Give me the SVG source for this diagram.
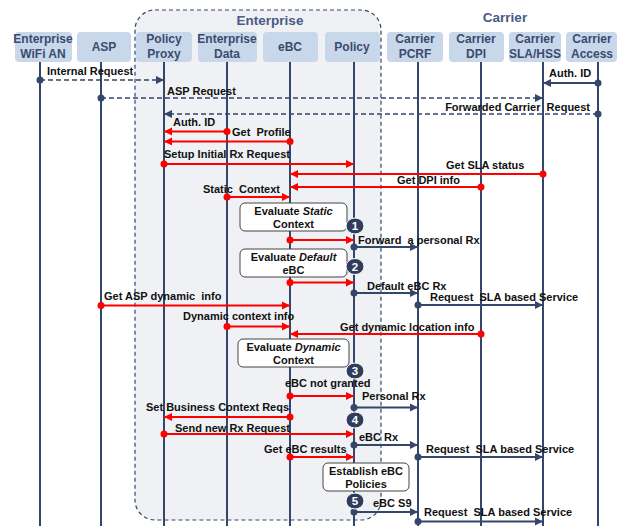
<svg xmlns="http://www.w3.org/2000/svg" width="630" height="526" viewBox="0 0 630 526">
<defs>
<style>
text{font-family:"Liberation Sans",Arial,sans-serif;font-weight:bold;}
.hd{font-size:12px;fill:#3b4b6e;text-anchor:middle;}
.grp{font-size:13.5px;fill:#4a5a85;text-anchor:middle;}
.hbox{fill:#c8d7ea;stroke:none;}
.life{stroke:#34466a;stroke-width:2;fill:none;}
.lbl{font-size:11px;fill:#111;white-space:pre;}
.red{stroke:#ff0000;stroke-width:2;fill:none;marker-end:url(#ar);}
.dk{stroke:#34466a;stroke-width:2;fill:none;marker-end:url(#ad);}
.dd{stroke:#34466a;stroke-width:1.5;stroke-dasharray:5,3;fill:none;marker-end:url(#ad);}
.rdot{fill:#ff0000;}
.ddot{fill:#34466a;}
.ev{fill:#fff;stroke:#444;stroke-width:1;}
.evt{font-size:11px;fill:#111;text-anchor:middle;}
.num{fill:#2f3d5c;stroke:#fff;stroke-width:1;}
.numt{font-size:11.5px;fill:#fff;text-anchor:middle;}
</style>
<marker id="ar" viewBox="0 0 10 10" refX="10" refY="5" markerWidth="8" markerHeight="9" markerUnits="userSpaceOnUse" orient="auto"><path d="M0,0 L10,5 L0,10 z" fill="#ff0000"/></marker>
<marker id="ad" viewBox="0 0 10 10" refX="10" refY="5" markerWidth="8" markerHeight="9" markerUnits="userSpaceOnUse" orient="auto"><path d="M0,0 L10,5 L0,10 z" fill="#34466a"/></marker>
</defs>
<rect x="0" y="0" width="630" height="526" fill="#fff"/>
<g id="enterprise-group">
<rect x="135" y="10" width="246" height="510" rx="20" fill="#eff1f4" stroke="#34466a" stroke-width="1.2" stroke-dasharray="4,3"/>
<text class="grp" x="270" y="25">Enterprise</text>
</g>
<g id="carrier-group"><text class="grp" x="505" y="22">Carrier</text></g>

<g id="n-wifi"><rect class="hbox" x="15" y="32" width="57" height="30" rx="4"/><text class="hd" x="43" y="43">Enterprise</text><text class="hd" x="43" y="57.5">WiFi AN</text><line class="life" x1="40" y1="62" x2="40" y2="526"/></g>
<g id="n-asp"><rect class="hbox" x="77" y="32" width="54" height="30" rx="4"/><text class="hd" x="104" y="51">ASP</text><line class="life" x1="101" y1="62" x2="101" y2="526"/></g>
<g id="n-proxy"><rect class="hbox" x="136" y="32" width="56" height="30" rx="4"/><text class="hd" x="164" y="43">Policy</text><text class="hd" x="164" y="57.5">Proxy</text><line class="life" x1="164" y1="62" x2="164" y2="526"/></g>
<g id="n-edata"><rect class="hbox" x="198" y="32" width="59" height="30" rx="4"/><text class="hd" x="227" y="43">Enterprise</text><text class="hd" x="227" y="57.5">Data</text><line class="life" x1="227" y1="62" x2="227" y2="526"/></g>
<g id="n-ebc"><rect class="hbox" x="263" y="32" width="55" height="30" rx="4"/><text class="hd" x="290" y="51">eBC</text><line class="life" x1="290" y1="62" x2="290" y2="526"/></g>
<g id="n-policy"><rect class="hbox" x="325" y="32" width="55" height="30" rx="4"/><text class="hd" x="352" y="51">Policy</text><line class="life" x1="354" y1="62" x2="354" y2="526"/></g>
<g id="n-pcrf"><rect class="hbox" x="387" y="32" width="56" height="30" rx="4"/><text class="hd" x="415" y="43">Carrier</text><text class="hd" x="415" y="57.5">PCRF</text><line class="life" x1="418" y1="62" x2="418" y2="526"/></g>
<g id="n-dpi"><rect class="hbox" x="449" y="32" width="55" height="30" rx="4"/><text class="hd" x="476" y="43">Carrier</text><text class="hd" x="476" y="57.5">DPI</text><line class="life" x1="481" y1="62" x2="481" y2="526"/></g>
<g id="n-sla"><rect class="hbox" x="509" y="32" width="52" height="30" rx="4"/><text class="hd" x="535" y="43">Carrier</text><text class="hd" x="535" y="57.5">SLA/HSS</text><line class="life" x1="543" y1="62" x2="543" y2="526"/></g>
<g id="n-access"><rect class="hbox" x="566" y="32" width="51" height="30" rx="4"/><text class="hd" x="592" y="43">Carrier</text><text class="hd" x="592" y="57.5">Access</text><line class="life" x1="598" y1="62" x2="598" y2="526"/></g>

<g id="connectors">
<line class="dd" x1="40" y1="80" x2="164" y2="80"/><circle class="ddot" cx="40" cy="80" r="3.5"/>
<line class="dd" x1="101" y1="98" x2="543" y2="98"/><circle class="ddot" cx="101" cy="98" r="3.5"/>
<line class="dk" x1="598" y1="83" x2="543" y2="83"/><circle class="ddot" cx="598" cy="83" r="3.5"/>
<line class="dd" x1="598" y1="114" x2="164" y2="114"/><circle class="ddot" cx="598" cy="114" r="3.5"/>

<line class="red" x1="227" y1="131.5" x2="164" y2="131.5"/><circle class="rdot" cx="227" cy="131.5" r="3.5"/>
<line class="red" x1="290" y1="141.5" x2="164" y2="141.5"/><circle class="rdot" cx="290" cy="141.5" r="3.5"/>
<line class="red" x1="164" y1="164" x2="354" y2="164"/><circle class="rdot" cx="164" cy="164" r="3.5"/>
<line class="red" x1="543" y1="174" x2="290" y2="174"/><circle class="rdot" cx="543" cy="174" r="3.5"/>
<line class="red" x1="481" y1="187" x2="290" y2="187"/><circle class="rdot" cx="481" cy="187" r="3.5"/>
<line class="red" x1="227" y1="197" x2="290" y2="197"/><circle class="rdot" cx="227" cy="197" r="3.5"/>
<line class="red" x1="290" y1="240" x2="354" y2="240"/><circle class="rdot" cx="290" cy="240" r="3.5"/>
<line class="dk" x1="354" y1="247" x2="418" y2="247"/><circle class="ddot" cx="354" cy="247" r="3.5"/>
<line class="red" x1="290" y1="282.5" x2="354" y2="282.5"/><circle class="rdot" cx="290" cy="282.5" r="3.5"/>
<line class="dk" x1="354" y1="293" x2="418" y2="293"/><circle class="ddot" cx="354" cy="293" r="3.5"/>
<line class="dk" x1="418" y1="305" x2="543" y2="305"/><circle class="ddot" cx="418" cy="305" r="3.5"/>
<line class="red" x1="101" y1="305.5" x2="290" y2="305.5"/><circle class="rdot" cx="101" cy="305.5" r="3.5"/>
<line class="red" x1="227" y1="326.5" x2="290" y2="326.5"/><circle class="rdot" cx="227" cy="326.5" r="3.5"/>
<line class="red" x1="481" y1="334" x2="290" y2="334"/><circle class="rdot" cx="481" cy="334" r="3.5"/>
<line class="red" x1="290" y1="396" x2="354" y2="396"/><circle class="rdot" cx="290" cy="396" r="3.5"/>
<line class="dk" x1="354" y1="407.5" x2="418" y2="407.5"/><circle class="ddot" cx="354" cy="407.5" r="3.5"/>
<line class="red" x1="290" y1="417" x2="164" y2="417"/><circle class="rdot" cx="290" cy="417" r="3.5"/>
<line class="red" x1="164" y1="434" x2="354" y2="434"/><circle class="rdot" cx="164" cy="434" r="3.5"/>
<line class="dk" x1="354" y1="445" x2="418" y2="445"/><circle class="ddot" cx="354" cy="445" r="3.5"/>
<line class="dk" x1="418" y1="457" x2="543" y2="457"/><circle class="ddot" cx="418" cy="457" r="3.5"/>
<line class="red" x1="290" y1="457" x2="354" y2="457"/><circle class="rdot" cx="290" cy="457" r="3.5"/>
<line class="dk" x1="354" y1="512" x2="418" y2="512"/><circle class="ddot" cx="354" cy="512" r="3.5"/>
<line class="dk" x1="418" y1="521.5" x2="543" y2="521.5"/><circle class="ddot" cx="418" cy="521.5" r="3.5"/>
</g>

<g id="labels">
<text class="lbl" x="47" y="75">Internal Request</text>
<text class="lbl" x="167" y="95">ASP Request</text>
<text class="lbl" x="549" y="77">Auth. ID</text>
<text class="lbl" x="590" y="111" text-anchor="end">Forwarded Carrier  Request</text>
<text class="lbl" x="173" y="126">Auth. ID</text>
<text class="lbl" x="232" y="136">Get  Profile</text>
<text class="lbl" x="164" y="158">Setup Initial Rx Request</text>
<text class="lbl" x="446" y="169">Get SLA status</text>
<text class="lbl" x="397" y="184">Get DPI info</text>
<text class="lbl" x="203" y="193">Static  Context</text>
<text class="lbl" x="358" y="244">Forward  a personal Rx</text>
<text class="lbl" x="367" y="290">Default eBC Rx</text>
<text class="lbl" x="430" y="301">Request  SLA based Service</text>
<text class="lbl" x="104" y="300">Get ASP dynamic  info</text>
<text class="lbl" x="183" y="320">Dynamic context info</text>
<text class="lbl" x="340" y="331">Get dynamic location info</text>
<text class="lbl" x="285" y="387">eBC not granted</text>
<text class="lbl" x="362" y="400">Personal Rx</text>
<text class="lbl" x="146" y="411">Set Business Context Reqs</text>
<text class="lbl" x="175" y="432">Send new Rx Request</text>
<text class="lbl" x="359" y="441">eBC Rx</text>
<text class="lbl" x="426" y="453">Request  SLA based Service</text>
<text class="lbl" x="264" y="453">Get eBC results</text>
<text class="lbl" x="373" y="507">eBC S9</text>
<text class="lbl" x="424" y="516">Request  SLA based Service</text>
</g>

<g id="eval-static"><rect class="ev" x="240" y="203" width="107" height="28" rx="5"/><text class="evt" x="293.5" y="215">Evaluate <tspan font-style="italic">Static</tspan></text><text class="evt" x="293.5" y="228">Context</text></g>
<g id="eval-default"><rect class="ev" x="240" y="249" width="107" height="28" rx="5"/><text class="evt" x="293.5" y="261">Evaluate <tspan font-style="italic">Default</tspan></text><text class="evt" x="293.5" y="274">eBC</text></g>
<g id="eval-dynamic"><rect class="ev" x="238" y="339" width="111" height="28" rx="5"/><text class="evt" x="293.5" y="351">Evaluate <tspan font-style="italic">Dynamic</tspan></text><text class="evt" x="293.5" y="364">Context</text></g>
<g id="establish"><rect class="ev" x="323" y="463" width="86" height="28" rx="5"/><text class="evt" x="366" y="475">Establish eBC</text><text class="evt" x="366" y="488">Policies</text></g>

<g id="step1"><ellipse class="num" cx="355" cy="226" rx="9" ry="8"/><text class="numt" x="355" y="230">1</text></g>
<g id="step2"><ellipse class="num" cx="355" cy="266.5" rx="9" ry="8"/><text class="numt" x="355" y="270.5">2</text></g>
<g id="step3"><ellipse class="num" cx="355" cy="371" rx="9" ry="8"/><text class="numt" x="355" y="375">3</text></g>
<g id="step4"><ellipse class="num" cx="355" cy="420" rx="9" ry="8"/><text class="numt" x="355" y="424">4</text></g>
<g id="step5"><ellipse class="num" cx="355" cy="501" rx="9" ry="8"/><text class="numt" x="355" y="505">5</text></g>
</svg>
